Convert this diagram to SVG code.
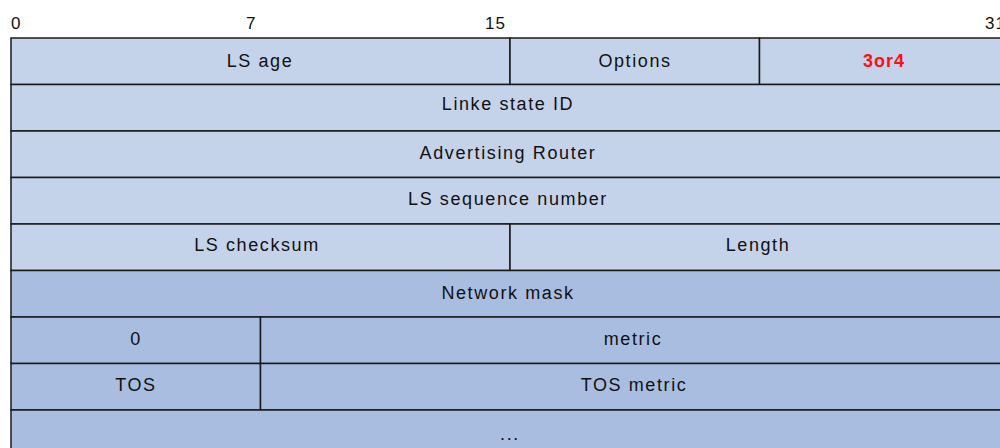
<svg xmlns="http://www.w3.org/2000/svg" width="1000" height="448" viewBox="0 0 1000 448">
<style>
.l{fill:#C5D3EA;stroke:#1a1a1a;stroke-width:1.5}
.d{fill:#A9BDE0;stroke:#1a1a1a;stroke-width:1.5}
.t{font-family:"Liberation Sans",Arial,sans-serif;font-size:18px;fill:#111;text-anchor:middle;letter-spacing:1.6px}
.n{font-family:"Liberation Sans",Arial,sans-serif;font-size:17px;fill:#111;letter-spacing:1px}
.r{font-family:"Liberation Sans",Arial,sans-serif;font-size:18px;font-weight:bold;fill:#FF1010;text-anchor:middle;letter-spacing:1px}
</style>
<rect width="1000" height="448" fill="#fff"/>
<g id="ruler">
<text class="n" x="11" y="29">0</text>
<text class="n" x="246" y="29">7</text>
<text class="n" x="485" y="29">15</text>
<text class="n" x="985" y="29">31</text>
</g>
<g id="ls-age"><rect class="l" x="11" y="38" width="499" height="46.5"/><text class="t" x="260" y="67">LS age</text></g>
<g id="options"><rect class="l" x="510" y="38" width="249.5" height="46.5"/><text class="t" x="635" y="67">Options</text></g>
<g id="type"><rect class="l" x="759.5" y="38" width="250" height="46.5"/><text class="r" x="884" y="67">3or4</text></g>
<g id="link-state-id"><rect class="l" x="11" y="84.5" width="998.5" height="46.5"/><text class="t" x="508" y="110">Linke state ID</text></g>
<g id="adv-router"><rect class="l" x="11" y="131" width="998.5" height="46.5"/><text class="t" x="508" y="159">Advertising Router</text></g>
<g id="seq"><rect class="l" x="11" y="177.5" width="998.5" height="46.5"/><text class="t" x="508" y="205">LS sequence number</text></g>
<g id="checksum"><rect class="l" x="11" y="224" width="499" height="46.5"/><text class="t" x="257" y="251">LS checksum</text></g>
<g id="length"><rect class="l" x="510" y="224" width="499.5" height="46.5"/><text class="t" x="758" y="251">Length</text></g>
<g id="netmask"><rect class="d" x="11" y="270.5" width="998.5" height="46.5"/><text class="t" x="508" y="299">Network mask</text></g>
<g id="zero"><rect class="d" x="11" y="317" width="249.5" height="46.5"/><text class="t" x="136" y="345">0</text></g>
<g id="metric"><rect class="d" x="260.5" y="317" width="749" height="46.5"/><text class="t" x="633" y="345">metric</text></g>
<g id="tos"><rect class="d" x="11" y="363.5" width="249.5" height="46.5"/><text class="t" x="136" y="391">TOS</text></g>
<g id="tos-metric"><rect class="d" x="260.5" y="363.5" width="749" height="46.5"/><text class="t" x="634" y="391">TOS metric</text></g>
<g id="more"><rect class="d" x="11" y="410" width="998.5" height="60"/><text class="t" x="510" y="440">...</text></g>
<g id="connectors"></g>
</svg>
